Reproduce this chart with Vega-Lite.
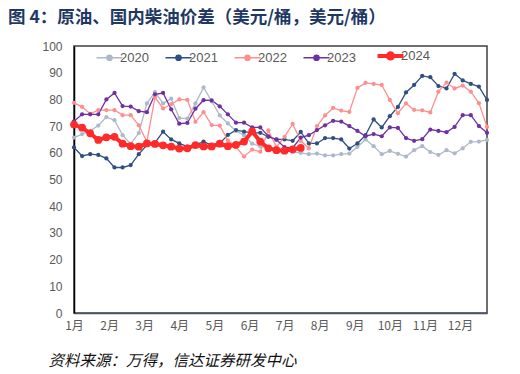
{
"$schema": "https://vega.github.io/schema/vega-lite/v6.json",
"width": 413, "height": 267,
"autosize": {"type": "none"},
"padding": {"left": 74, "top": 46, "right": 33, "bottom": 61},
"background": "white",
"title": {"text": "图 4：原油、国内柴油价差（美元/桶，美元/桶）", "anchor": "start", "frame": "group", "dx": -66, "offset": 14, "font": "Noto Sans CJK SC", "fontSize": 17.5, "fontWeight": "bold", "color": "#1F3864"},
"config": {"view": {"stroke": "#404040", "strokeWidth": 1.5}},
"data": {"values": [
{"s":"2020","w":0,"v":65.7},{"s":"2020","w":1,"v":67},{"s":"2020","w":2,"v":68.2},{"s":"2020","w":3,"v":70.2},{"s":"2020","w":4,"v":73.4},{"s":"2020","w":5,"v":72.2},{"s":"2020","w":6,"v":66.6},{"s":"2020","w":7,"v":63.3},{"s":"2020","w":8,"v":67.4},{"s":"2020","w":9,"v":78.5},{"s":"2020","w":10,"v":82.7},{"s":"2020","w":11,"v":78.5},{"s":"2020","w":12,"v":80.3},{"s":"2020","w":13,"v":73},{"s":"2020","w":14,"v":72.8},{"s":"2020","w":15,"v":78.5},{"s":"2020","w":16,"v":84.5},{"s":"2020","w":17,"v":79.3},{"s":"2020","w":18,"v":74},{"s":"2020","w":19,"v":71},{"s":"2020","w":20,"v":68.2},{"s":"2020","w":21,"v":66.6},{"s":"2020","w":22,"v":63.4},{"s":"2020","w":23,"v":62.4},{"s":"2020","w":24,"v":61.9},{"s":"2020","w":25,"v":61.3},{"s":"2020","w":26,"v":61},{"s":"2020","w":27,"v":60.3},{"s":"2020","w":28,"v":60},{"s":"2020","w":29,"v":59.5},{"s":"2020","w":30,"v":59.7},{"s":"2020","w":31,"v":59},{"s":"2020","w":32,"v":59},{"s":"2020","w":33,"v":59.5},{"s":"2020","w":34,"v":59.7},{"s":"2020","w":35,"v":62.2},{"s":"2020","w":36,"v":65},{"s":"2020","w":37,"v":62.5},{"s":"2020","w":38,"v":59.5},{"s":"2020","w":39,"v":60.7},{"s":"2020","w":40,"v":59.6},{"s":"2020","w":41,"v":58.6},{"s":"2020","w":42,"v":61},{"s":"2020","w":43,"v":62.5},{"s":"2020","w":44,"v":60.3},{"s":"2020","w":45,"v":59.2},{"s":"2020","w":46,"v":61},{"s":"2020","w":47,"v":59.8},{"s":"2020","w":48,"v":61.7},{"s":"2020","w":49,"v":64.1},{"s":"2020","w":50,"v":64.2},{"s":"2020","w":51,"v":64.8},
{"s":"2021","w":0,"v":62},{"s":"2021","w":1,"v":58.8},{"s":"2021","w":2,"v":59.5},{"s":"2021","w":3,"v":59.2},{"s":"2021","w":4,"v":57.9},{"s":"2021","w":5,"v":54.5},{"s":"2021","w":6,"v":54.5},{"s":"2021","w":7,"v":55.4},{"s":"2021","w":8,"v":59.5},{"s":"2021","w":9,"v":62.9},{"s":"2021","w":10,"v":63.8},{"s":"2021","w":11,"v":67.9},{"s":"2021","w":12,"v":65},{"s":"2021","w":13,"v":63.5},{"s":"2021","w":14,"v":62.3},{"s":"2021","w":15,"v":63},{"s":"2021","w":16,"v":64.2},{"s":"2021","w":17,"v":62.9},{"s":"2021","w":18,"v":63.5},{"s":"2021","w":19,"v":66.7},{"s":"2021","w":20,"v":68.5},{"s":"2021","w":21,"v":67.9},{"s":"2021","w":22,"v":67.5},{"s":"2021","w":23,"v":67.5},{"s":"2021","w":24,"v":66},{"s":"2021","w":25,"v":65},{"s":"2021","w":26,"v":65},{"s":"2021","w":27,"v":64.5},{"s":"2021","w":28,"v":67.8},{"s":"2021","w":29,"v":63.5},{"s":"2021","w":30,"v":63.5},{"s":"2021","w":31,"v":65.5},{"s":"2021","w":32,"v":65.5},{"s":"2021","w":33,"v":65},{"s":"2021","w":34,"v":61.6},{"s":"2021","w":35,"v":63.5},{"s":"2021","w":36,"v":66.6},{"s":"2021","w":37,"v":72.5},{"s":"2021","w":38,"v":69.5},{"s":"2021","w":39,"v":73.7},{"s":"2021","w":40,"v":77.2},{"s":"2021","w":41,"v":82.6},{"s":"2021","w":42,"v":85.4},{"s":"2021","w":43,"v":88.8},{"s":"2021","w":44,"v":88.3},{"s":"2021","w":45,"v":85},{"s":"2021","w":46,"v":84.1},{"s":"2021","w":47,"v":89.6},{"s":"2021","w":48,"v":87.1},{"s":"2021","w":49,"v":85.8},{"s":"2021","w":50,"v":84.8},{"s":"2021","w":51,"v":79.8},
{"s":"2022","w":0,"v":78.7},{"s":"2022","w":1,"v":77.2},{"s":"2022","w":2,"v":74.6},{"s":"2022","w":3,"v":76},{"s":"2022","w":4,"v":76},{"s":"2022","w":5,"v":76},{"s":"2022","w":6,"v":74.1},{"s":"2022","w":7,"v":74.1},{"s":"2022","w":8,"v":70.3},{"s":"2022","w":9,"v":64.2},{"s":"2022","w":10,"v":80.8},{"s":"2022","w":11,"v":76.6},{"s":"2022","w":12,"v":78.2},{"s":"2022","w":13,"v":80},{"s":"2022","w":14,"v":79.8},{"s":"2022","w":15,"v":71.6},{"s":"2022","w":16,"v":75.2},{"s":"2022","w":17,"v":70.4},{"s":"2022","w":18,"v":70.2},{"s":"2022","w":19,"v":64.7},{"s":"2022","w":20,"v":62.2},{"s":"2022","w":21,"v":58.6},{"s":"2022","w":22,"v":61.2},{"s":"2022","w":23,"v":60.4},{"s":"2022","w":24,"v":68.4},{"s":"2022","w":25,"v":62.2},{"s":"2022","w":26,"v":66},{"s":"2022","w":27,"v":70.8},{"s":"2022","w":28,"v":64.5},{"s":"2022","w":29,"v":61.7},{"s":"2022","w":30,"v":70},{"s":"2022","w":31,"v":74},{"s":"2022","w":32,"v":76.8},{"s":"2022","w":33,"v":75.8},{"s":"2022","w":34,"v":75.3},{"s":"2022","w":35,"v":84.3},{"s":"2022","w":36,"v":86.2},{"s":"2022","w":37,"v":85.8},{"s":"2022","w":38,"v":85.4},{"s":"2022","w":39,"v":79.8},{"s":"2022","w":40,"v":74.8},{"s":"2022","w":41,"v":78.5},{"s":"2022","w":42,"v":76.1},{"s":"2022","w":43,"v":75.9},{"s":"2022","w":44,"v":75.1},{"s":"2022","w":45,"v":82.9},{"s":"2022","w":46,"v":86.3},{"s":"2022","w":47,"v":84.1},{"s":"2022","w":48,"v":85.2},{"s":"2022","w":49,"v":82.9},{"s":"2022","w":50,"v":78.6},{"s":"2022","w":51,"v":69.7},
{"s":"2023","w":0,"v":71.8},{"s":"2023","w":1,"v":74.4},{"s":"2023","w":2,"v":74.4},{"s":"2023","w":3,"v":74.4},{"s":"2023","w":4,"v":80},{"s":"2023","w":5,"v":82.4},{"s":"2023","w":6,"v":77.5},{"s":"2023","w":7,"v":77.3},{"s":"2023","w":8,"v":75.6},{"s":"2023","w":9,"v":75.2},{"s":"2023","w":10,"v":81.9},{"s":"2023","w":11,"v":82.4},{"s":"2023","w":12,"v":76.3},{"s":"2023","w":13,"v":70.9},{"s":"2023","w":14,"v":71.2},{"s":"2023","w":15,"v":76.5},{"s":"2023","w":16,"v":79.7},{"s":"2023","w":17,"v":79.6},{"s":"2023","w":18,"v":77.4},{"s":"2023","w":19,"v":74.4},{"s":"2023","w":20,"v":71.3},{"s":"2023","w":21,"v":71.3},{"s":"2023","w":22,"v":69.5},{"s":"2023","w":23,"v":69.5},{"s":"2023","w":24,"v":66.2},{"s":"2023","w":25,"v":64.9},{"s":"2023","w":26,"v":62.1},{"s":"2023","w":27,"v":61.8},{"s":"2023","w":28,"v":65.7},{"s":"2023","w":29,"v":66.6},{"s":"2023","w":30,"v":68.5},{"s":"2023","w":31,"v":70.3},{"s":"2023","w":32,"v":72},{"s":"2023","w":33,"v":71.7},{"s":"2023","w":34,"v":70},{"s":"2023","w":35,"v":68.2},{"s":"2023","w":36,"v":66.2},{"s":"2023","w":37,"v":67},{"s":"2023","w":38,"v":66.2},{"s":"2023","w":39,"v":69.5},{"s":"2023","w":40,"v":69.3},{"s":"2023","w":41,"v":65.5},{"s":"2023","w":42,"v":64.5},{"s":"2023","w":43,"v":65.1},{"s":"2023","w":44,"v":68.7},{"s":"2023","w":45,"v":68.2},{"s":"2023","w":46,"v":67.7},{"s":"2023","w":47,"v":69.7},{"s":"2023","w":48,"v":74.1},{"s":"2023","w":49,"v":74.1},{"s":"2023","w":50,"v":70},{"s":"2023","w":51,"v":67.5},
{"s":"2024","w":0,"v":70.6},{"s":"2024","w":1,"v":69.4},{"s":"2024","w":2,"v":67.3},{"s":"2024","w":3,"v":64.8},{"s":"2024","w":4,"v":65.8},{"s":"2024","w":5,"v":66},{"s":"2024","w":6,"v":63.4},{"s":"2024","w":7,"v":62.5},{"s":"2024","w":8,"v":62.3},{"s":"2024","w":9,"v":63.5},{"s":"2024","w":10,"v":63.3},{"s":"2024","w":11,"v":62.8},{"s":"2024","w":12,"v":62.3},{"s":"2024","w":13,"v":61.6},{"s":"2024","w":14,"v":61.7},{"s":"2024","w":15,"v":62.9},{"s":"2024","w":16,"v":62.4},{"s":"2024","w":17,"v":62.4},{"s":"2024","w":18,"v":63.4},{"s":"2024","w":19,"v":62.5},{"s":"2024","w":20,"v":63},{"s":"2024","w":21,"v":64.2},{"s":"2024","w":22,"v":68},{"s":"2024","w":23,"v":64.2},{"s":"2024","w":24,"v":61.7},{"s":"2024","w":25,"v":61},{"s":"2024","w":26,"v":60.8},{"s":"2024","w":27,"v":61.3},{"s":"2024","w":28,"v":61.8}
]},
"encoding": {
"x": {"field": "w", "type": "quantitative", "scale": {"domain": [0, 51], "nice": false, "zero": false},
 "axis": {"values": [0, 4.3333, 8.6667, 13, 17.3333, 21.6667, 26, 30.3333, 34.6667, 39, 43.3333, 47.6667],
  "labelExpr": "(round(datum.value/4.3333)+1) + '月'", "grid": false, "ticks": false,
  "domainColor": "#44546A", "domainWidth": 1.5, "labelFont": "Noto Sans CJK SC", "labelFontSize": 12, "labelColor": "#595959", "labelPadding": 7, "labelFlush": false,
  "title": "资料来源：万得，信达证券研发中心", "titleAnchor": "start", "titleAlign": "left", "titleX": -26, "titleY": 47, "titleBaseline": "middle",
  "titleFont": "Noto Sans CJK SC", "titleFontSize": 15.5, "titleFontWeight": "normal", "titleFontStyle": "italic", "titleColor": "#111111"}},
"y": {"field": "v", "type": "quantitative", "scale": {"domain": [0, 100], "nice": false},
 "axis": {"values": [0,10,20,30,40,50,60,70,80,90,100], "title": null, "grid": false, "ticks": false, "domainColor": "#000000", "domainWidth": 1.5,
  "labelFont": "Liberation Sans", "labelFontSize": 12, "labelColor": "#595959", "labelPadding": 12}},
"color": {"field": "s", "type": "nominal",
 "scale": {"domain": ["2020","2021","2022","2023","2024"], "range": ["#ADB9CA","#2F4F7F","#FF8F8F","#7030A0","#FF2A2A"]},
 "legend": {"orient": "none", "legendX": 29, "legendY": 3, "direction": "horizontal", "columns": 5, "title": null,
  "symbolType": "M-1,0H1M-0.2,0A0.2,0.2,0,1,1,0.2,0A0.2,0.2,0,1,1,-0.2,0", "symbolSize": 676, "symbolStrokeWidth": 1.5,
  "labelFont": "Liberation Sans", "labelFontSize": 13, "labelColor": "#595959", "columnPadding": 13, "labelOffset": 4,
  "encode": {"symbols": {"update": {"fill": {"scale": "color", "field": "value"}, "strokeWidth": {"signal": "datum.value == '2024' ? 4 : 1.5"}}}}}}
},
"layer": [
 {"transform": [{"filter": "datum.s != '2024'"}], "mark": {"type": "line", "strokeWidth": 1.3}},
 {"transform": [{"filter": "datum.s != '2024'"}], "mark": {"type": "point", "filled": true, "size": 18, "opacity": 1}},
 {"transform": [{"filter": "datum.s == '2024'"}], "mark": {"type": "line", "strokeWidth": 4}},
 {"transform": [{"filter": "datum.s == '2024'"}], "mark": {"type": "point", "filled": true, "size": 60, "opacity": 1}}
]
}
